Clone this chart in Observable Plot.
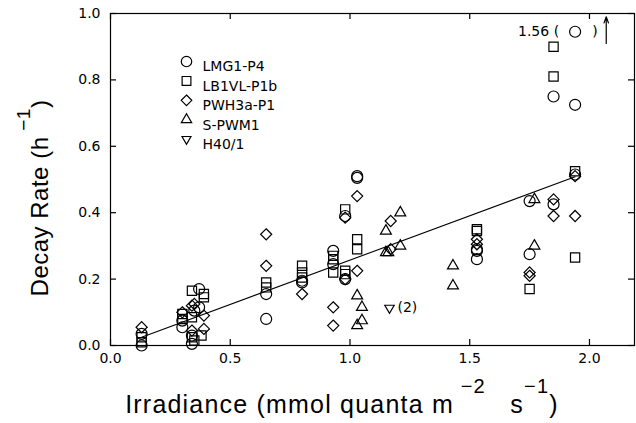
<!DOCTYPE html>
<html>
<head>
<meta charset="utf-8">
<script src="https://cdn.jsdelivr.net/npm/d3@7"></script>
<script src="https://cdn.jsdelivr.net/npm/@observablehq/plot@0.6"></script>
<style>
  html, body { margin: 0; padding: 0; background: #fff; }
  #chart svg { display: block; }
</style>
</head>
<body>
<div id="chart"></div>
<script>
// ---- data ----
const lmgX = [0.13,0.13,0.30,0.30,0.34,0.34,0.35,0.37,0.37,0.65,0.65,0.80,0.80,0.93,0.93,0.98,0.98,1.03,1.03,1.53,1.53,1.53,1.75,1.75,1.85,1.85,1.94,1.94,1.94];
const lmgY = [0.035,0.0,0.075,0.055,0.03,0.005,0.105,0.17,0.115,0.155,0.08,0.195,0.19,0.285,0.245,0.39,0.20,0.51,0.505,0.29,0.285,0.26,0.435,0.275,0.75,0.425,0.945,0.725,0.515];

const lbX = [0.13,0.13,0.30,0.30,0.34,0.34,0.34,0.35,0.39,0.39,0.38,0.65,0.65,0.80,0.80,0.80,0.93,0.93,0.93,0.98,0.98,0.98,1.03,1.03,1.53,1.53,1.75,1.85,1.85,1.94,1.94];
const lbY = [0.025,0.01,0.095,0.08,0.165,0.085,0.025,0.015,0.155,0.145,0.03,0.19,0.175,0.24,0.22,0.205,0.27,0.26,0.22,0.41,0.225,0.215,0.32,0.29,0.35,0.345,0.17,0.90,0.81,0.525,0.265];

const pwhX = [0.13,0.30,0.34,0.35,0.34,0.39,0.39,0.65,0.65,0.80,0.93,0.93,0.98,0.98,1.03,1.03,1.17,1.17,1.53,1.53,1.75,1.75,1.85,1.85,1.94,1.94];
const pwhY = [0.055,0.10,0.12,0.125,0.045,0.09,0.05,0.335,0.24,0.155,0.115,0.06,0.385,0.20,0.45,0.225,0.375,0.29,0.32,0.305,0.22,0.21,0.44,0.39,0.51,0.39];

const spwX = [1.03,1.05,1.05,1.03,1.15,1.15,1.16,1.21,1.21,1.43,1.43,1.77,1.77];
const spwY = [0.15,0.115,0.075,0.06,0.345,0.28,0.28,0.40,0.30,0.24,0.18,0.44,0.30];

const h40X = [1.165];
const h40Y = [0.113];

const fitX = [0.13, 1.94];
const fitY = [0.025, 0.508];

const seriesNames = ["LMG1-P4", "LB1VL-P1b", "PWH3a-P1", "S-PWM1", "H40/1"];
const xTicks = [0.0, 0.5, 1.0, 1.5, 2.0];
const yTicks = [0.0, 0.2, 0.4, 0.6, 0.8, 1.0];
const outlierLabel = "1.56";
const outlierX = [1.94];
const outlierY = [0.945];
const arrowX = [2.07];
const arrowY1 = [0.91];
const arrowY2 = [0.99];

// ---- helpers ----
const triDown = {
  draw(context, size) {
    const s = Math.sqrt(size / 0.75);
    const h = s * Math.sqrt(3) / 2;
    context.moveTo(-s / 2, -h / 3);
    context.lineTo(s / 2, -h / 3);
    context.lineTo(0, 2 * h / 3);
    context.closePath();
  }
};
const symbols = ["circle", "square", "diamond2", "triangle2", triDown];
const rs = [5.5, 5.2, 5.0, 5.2, 4.6];
const zip = (xs, ys) => xs.map((x, i) => ({x, y: ys[i]}));
const sets = [zip(lmgX, lmgY), zip(lbX, lbY), zip(pwhX, pwhY), zip(spwX, spwY), zip(h40X, h40Y)];

const W = 636, H = 423;
const mL = 110, mR = 2, mT = 13, mB = 78;
const innerH = H - mT - mB, innerW = W - mL - mR;
const font = "'DejaVu Sans', 'Liberation Sans', sans-serif";
const titleFont = "'Liberation Sans', 'DejaVu Sans', sans-serif";
const tickLen = 6;

const marks = [
  Plot.frame({stroke: "black", strokeWidth: 1.2}),
  Plot.tickX(xTicks, {x: d => d, insetTop: innerH - tickLen, stroke: "black", strokeWidth: 1.2}),
  Plot.tickX(xTicks, {x: d => d, insetBottom: innerH - tickLen, stroke: "black", strokeWidth: 1.2}),
  Plot.tickY(yTicks, {y: d => d, insetRight: innerW - tickLen, stroke: "black", strokeWidth: 1.2}),
  Plot.tickY(yTicks, {y: d => d, insetLeft: innerW - tickLen, stroke: "black", strokeWidth: 1.2}),
  Plot.axisX({ticks: xTicks, tickSize: 0, tickPadding: 8, tickFormat: d3.format(".1f"), label: null, fontSize: 14}),
  Plot.axisY({ticks: yTicks, tickSize: 0, tickPadding: 10, tickFormat: d3.format(".1f"), label: null, fontSize: 14}),
  Plot.line(zip(fitX, fitY), {x: "x", y: "y", stroke: "black", strokeWidth: 1.1}),
];
sets.forEach((data, i) => {
  marks.push(Plot.dot(data, {x: "x", y: "y", symbol: symbols[i], r: rs[i], stroke: "black", fill: "none", strokeWidth: 1.2}));
});
// legend inside plot
seriesNames.forEach((name, i) => {
  marks.push(Plot.dot([name], {frameAnchor: "top-left", dx: 76, dy: 48 + i * 19.4, symbol: symbols[i], r: rs[i] * 0.95, stroke: "black", fill: "none", strokeWidth: 1.2}));
  marks.push(Plot.text([name], {text: d => d, frameAnchor: "top-left", dx: 92, dy: 48 + i * 19.4, textAnchor: "start", fontSize: 14, fill: "black"}));
});
// annotations
marks.push(Plot.text([0], {x: () => outlierX[0], y: () => outlierY[0], text: () => outlierLabel + " (", dx: -16, textAnchor: "end", fontSize: 14, fill: "black"}));
marks.push(Plot.text([0], {x: () => outlierX[0], y: () => outlierY[0], text: () => ")", dx: 20, textAnchor: "middle", fontSize: 14, fill: "black"}));
marks.push(Plot.arrow([0], {x1: () => arrowX[0], x2: () => arrowX[0], y1: () => arrowY1[0], y2: () => arrowY2[0], stroke: "black", strokeWidth: 1.2, headLength: 8, headAngle: 40}));
marks.push(Plot.text([0], {x: () => h40X[0], y: () => h40Y[0], text: () => "(2)", dx: 8, textAnchor: "start", fontSize: 14, fill: "black"}));

const chart = Plot.plot({
  width: W, height: H,
  marginLeft: mL, marginRight: mR, marginTop: mT, marginBottom: mB,
  style: {fontFamily: font, background: "white", color: "black", overflow: "visible"},
  x: {domain: [0, 2.188]},
  y: {domain: [0, 1.0]},
  marks
});
document.getElementById("chart").appendChild(chart);

// axis titles with superscripts
const svg = d3.select(chart);
const xt = svg.append("text")
  .attr("x", 342).attr("y", 413)
  .attr("text-anchor", "middle")
  .attr("letter-spacing", 1.2)
  .attr("font-family", titleFont).attr("font-size", 25).attr("fill", "black");
xt.append("tspan").text("Irradiance (mmol quanta m");
xt.append("tspan").attr("dy", -20).attr("font-size", 20).text(" −2");
xt.append("tspan").attr("dy", 20).text("   s");
xt.append("tspan").attr("dy", -20).attr("font-size", 20).text("−1");
xt.append("tspan").attr("dy", 20).text(")");

const yt = svg.append("text")
  .attr("transform", `translate(48, 198) rotate(-90)`)
  .attr("text-anchor", "middle")
  .attr("letter-spacing", 0.5)
  .attr("font-family", titleFont).attr("font-size", 24).attr("fill", "black");
yt.append("tspan").text("Decay Rate (h");
yt.append("tspan").attr("dy", -18).attr("font-size", 19).text(" −1");
yt.append("tspan").attr("dy", 18).text(")");
</script>
</body>
</html>
